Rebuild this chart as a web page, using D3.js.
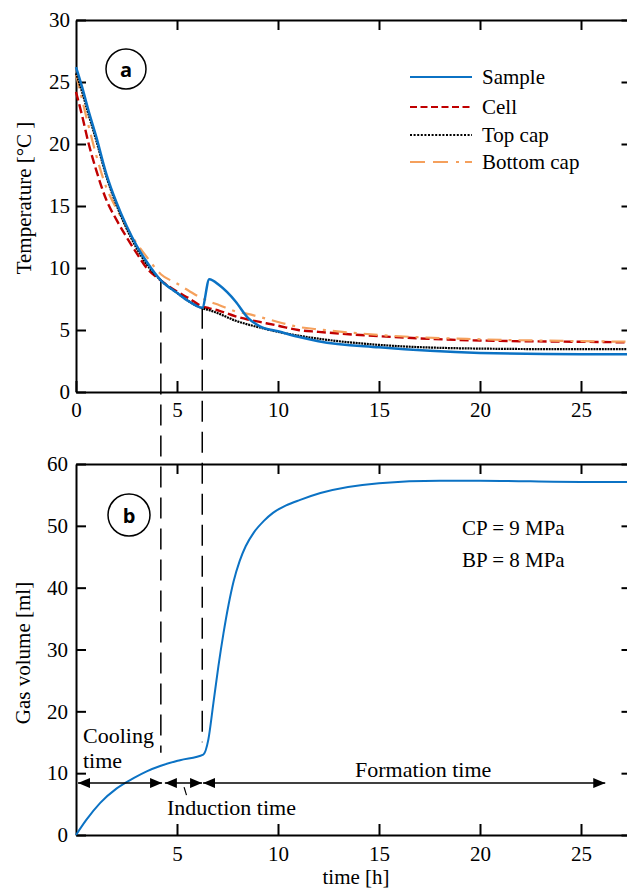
<!DOCTYPE html>
<html>
<head>
<meta charset="utf-8">
<script src="https://cdn.jsdelivr.net/npm/d3@7"></script>
<style>
	body { margin: 0; background: #fff; }
	svg { display: block; }
</style>
</head>
<body>
<div id="chart"></div>
<script>
// DATA
const tempTime   = [0, 0.3, 0.6, 1.0, 1.5, 2.0, 2.5, 3.0, 3.5, 4.2, 5.0, 5.6, 6.25, 6.6, 7.1, 7.9, 8.5, 9.1, 10, 11, 12, 15, 20, 25, 27.5];
const sampleTemp = [26.2, 24.6, 22.8, 20.6, 17.6, 15.3, 13.4, 11.8, 10.5, 9.0, 8.0, 7.3, 6.8, 9.1, 8.6, 7.3, 6.0, 5.3, 4.9, 4.45, 4.1, 3.6, 3.15, 3.05, 3.05];
const cellTemp   = [24.2, 22.3, 20.2, 17.9, 15.5, 13.9, 12.5, 11.2, 10.0, 9.0, 8.1, 7.55, 6.9, 6.75, 6.55, 6.1, 5.85, 5.65, 5.35, 5.0, 4.85, 4.5, 4.15, 4.05, 4.0];
const topCapTemp = [25.7, 24.2, 22.5, 20.3, 17.4, 15.1, 13.2, 11.6, 10.3, 9.0, 8.0, 7.3, 6.75, 6.6, 6.3, 5.75, 5.45, 5.2, 4.85, 4.55, 4.3, 3.8, 3.5, 3.45, 3.45];
const botCapTemp = [25.6, 23.6, 21.6, 19.1, 16.5, 14.8, 13.3, 12.0, 10.9, 9.5, 8.75, 8.15, 7.55, 7.3, 7.0, 6.5, 6.3, 6.05, 5.65, 5.25, 5.05, 4.6, 4.25, 4.1, 4.05];

const volTime = [0, 0.5, 1.2, 2, 2.85, 3.5, 4.2, 5.15, 6.3, 6.55, 6.8, 7.05, 7.3, 7.55, 7.8, 8.1, 8.4, 8.8, 9.3, 9.75, 10.4, 11.1, 12.1, 15, 18, 20, 25, 27.5];
const volume  = [0, 2.4, 5.2, 7.5, 9.2, 10.3, 11.2, 12.1, 13.0, 15.4, 21.3, 27.3, 32.6, 37.2, 41.0, 44.3, 46.7, 48.9, 50.8, 52.1, 53.3, 54.2, 55.3, 56.9, 57.3, 57.3, 57.1, 57.1];

const xTicks = [0, 5, 10, 15, 20, 25];
const tempTicks = [0, 5, 10, 15, 20, 25, 30];
const volTicks = [0, 10, 20, 30, 40, 50, 60];

const seriesNames = ["Sample", "Cell", "Top cap", "Bottom cap"];

// annotation times [h]
const cutTimes = [4.2, 6.25];
const cutTempTop = [9.0, 6.8];
const cutVolBottom = [13.3, 15.0];
const phases = [[0.1, 4.26], [4.4, 6.24], [6.29, 26.2]];
const arrowVol = 8.4;

// LAYOUT
const outerWidth = 627;
const outerHeight = 891;
const left = 76, right = 631.5;
const serif = "Liberation Serif";

const svg = d3.select("#chart").append("svg")
	.attr("width", outerWidth)
	.attr("height", outerHeight)
	.attr("font-family", serif);

const x = d3.scaleLinear().domain([0, 27.5]).range([left, right]);
const yT = d3.scaleLinear().domain([0, 30]).range([392, 20]);
const yV = d3.scaleLinear().domain([0, 60]).range([835, 464]);

const styleAxis = g => {
	g.attr("font-family", serif).attr("font-size", 21);
	g.select(".domain").attr("stroke-width", 2);
	g.selectAll(".tick line").attr("stroke-width", 2);
	g.selectAll("text").attr("fill", "#000").attr("font-family", serif).attr("font-size", 21);
};

const label = (tx, ty, str, size) => svg.append("text")
	.attr("x", tx).attr("y", ty)
	.attr("font-family", serif)
	.attr("font-size", size)
	.text(str);

// PANEL a axes
svg.append("g").attr("transform", `translate(0,${yT(0)})`)
	.call(d3.axisBottom(x).tickValues(xTicks).tickSize(-11).tickSizeOuter(0).tickPadding(10))
	.call(styleAxis);
svg.append("g").attr("transform", `translate(0,${yT(30)})`)
	.call(d3.axisTop(x).tickValues(xTicks.slice(1)).tickSize(-10).tickSizeOuter(0).tickFormat(""))
	.call(styleAxis);
svg.append("g").attr("transform", `translate(${left},0)`)
	.call(d3.axisLeft(yT).tickValues(tempTicks).tickSize(-10).tickSizeOuter(0).tickPadding(6))
	.call(styleAxis);
svg.append("g").attr("transform", `translate(${right},0)`)
	.call(d3.axisRight(yT).tickValues(tempTicks).tickSize(-10).tickSizeOuter(0).tickFormat(""))
	.call(styleAxis);

// PANEL b axes
svg.append("g").attr("transform", `translate(0,${yV(0)})`)
	.call(d3.axisBottom(x).tickValues(xTicks.slice(1)).tickSize(-11).tickSizeOuter(0).tickPadding(11))
	.call(styleAxis);
svg.append("g").attr("transform", `translate(0,${yV(60)})`)
	.call(d3.axisTop(x).tickValues(xTicks.slice(1)).tickSize(-10).tickSizeOuter(0).tickFormat(""))
	.call(styleAxis);
svg.append("g").attr("transform", `translate(${left},0)`)
	.call(d3.axisLeft(yV).tickValues(volTicks).tickSize(-10).tickSizeOuter(0).tickPadding(8))
	.call(styleAxis);
svg.append("g").attr("transform", `translate(${right},0)`)
	.call(d3.axisRight(yV).tickValues(volTicks).tickSize(-10).tickSizeOuter(0).tickFormat(""))
	.call(styleAxis);

// axis titles
label(0, 0, "Temperature [°C ]", 21)
	.attr("transform", "translate(24,198) rotate(-90)")
	.attr("text-anchor", "middle").attr("dominant-baseline", "central");
label(0, 0, "Gas volume [ml]", 21)
	.attr("transform", "translate(23,653) rotate(-90)")
	.attr("text-anchor", "middle").attr("dominant-baseline", "central");
label(356, 884, "time [h]", 21).attr("text-anchor", "middle");

// dashed cut lines
svg.selectAll(".cut")
	.data(cutTimes)
	.enter()
	.append("line")
	.attr("x1", d => x(d)).attr("x2", d => x(d))
	.attr("y1", (d, i) => yT(cutTempTop[i]))
	.attr("y2", (d, i) => yV(cutVolBottom[i]))
	.attr("stroke", "#000").attr("stroke-width", 1.5)
	.attr("stroke-dasharray", "21,10");

// series styles
const styles = [
	{ color: "#0b72c4", width: 2.5, dash: null, legDash: null },
	{ color: "#c00000", width: 2.4, dash: "9,4", legDash: "7,3.5" },
	{ color: "#000000", width: 2.2, dash: "2,0.8", legDash: "2,1.6" },
	{ color: "#f5a05c", width: 2.2, dash: "14,7,3,7", legDash: "15,8,15,8,3,6" }
];
const tempSeries = [sampleTemp, cellTemp, topCapTemp, botCapTemp];

const lineT = d3.line()
	.x(d => x(d[0]))
	.y(d => yT(d[1]))
	.curve(d3.curveMonotoneX);

// draw back to front: cell, bottom cap, top cap, sample
[1, 3, 2, 0].forEach(i => {
	svg.append("path")
		.datum(tempTime.map((t, j) => [t, tempSeries[i][j]]))
		.attr("d", lineT)
		.attr("fill", "none")
		.attr("stroke", styles[i].color)
		.attr("stroke-width", styles[i].width)
		.attr("stroke-dasharray", styles[i].dash);
});

// legend
const legY = [77, 107, 135, 162];
seriesNames.forEach((name, i) => {
	svg.append("line")
		.attr("x1", 410).attr("x2", 472)
		.attr("y1", legY[i]).attr("y2", legY[i])
		.attr("stroke", styles[i].color)
		.attr("stroke-width", i === 0 ? 2 : 1.8)
		.attr("stroke-dasharray", styles[i].legDash);
	label(482, legY[i] + 7, name, 21);
});

// volume curve
const lineV = d3.line()
	.x(d => x(d[0]))
	.y(d => yV(d[1]))
	.curve(d3.curveMonotoneX);

svg.append("path")
	.datum(volTime.map((t, j) => [t, volume[j]]))
	.attr("d", lineV)
	.attr("fill", "none")
	.attr("stroke", "#0b72c4")
	.attr("stroke-width", 2);

// panel labels
[["a", 126, 69, 20], ["b", 129, 515, 21]].forEach(([lab, cx, cy, r]) => {
	svg.append("circle")
		.attr("cx", cx).attr("cy", cy).attr("r", r)
		.attr("fill", "none").attr("stroke", "#000").attr("stroke-width", 1.5);
	svg.append("text")
		.attr("x", cx).attr("y", cy)
		.attr("text-anchor", "middle").attr("dominant-baseline", "central")
		.attr("font-family", "Open Sans").attr("font-weight", 700)
		.attr("font-size", 20)
		.text(lab);
});

label(462, 535, "CP = 9 MPa", 21);
label(462, 567, "BP = 8 MPa", 21);

// phase arrows
svg.append("defs").append("marker")
	.attr("id", "arrow")
	.attr("viewBox", "0 0 12 10")
	.attr("refX", 12).attr("refY", 5)
	.attr("markerWidth", 12).attr("markerHeight", 10)
	.attr("markerUnits", "userSpaceOnUse")
	.attr("orient", "auto-start-reverse")
	.append("path")
	.attr("d", "M0,0 L12,5 L0,10 Z")
	.attr("fill", "#000");

svg.selectAll(".phase")
	.data(phases)
	.enter()
	.append("line")
	.attr("x1", d => x(d[0])).attr("x2", d => x(d[1]))
	.attr("y1", yV(arrowVol)).attr("y2", yV(arrowVol))
	.attr("stroke", "#000").attr("stroke-width", 1.5)
	.attr("marker-start", "url(#arrow)")
	.attr("marker-end", "url(#arrow)");

svg.append("line")
	.attr("x1", x(5.35)).attr("x2", x(5.47))
	.attr("y1", yV(arrowVol) + 4).attr("y2", yV(arrowVol) + 12)
	.attr("stroke", "#000").attr("stroke-width", 1.2);

label(83, 743, "Cooling", 22);
label(83, 768, "time", 22);
label(167, 815, "Induction time", 22);
label(355, 777, "Formation time", 22);
</script>
</body>
</html>
